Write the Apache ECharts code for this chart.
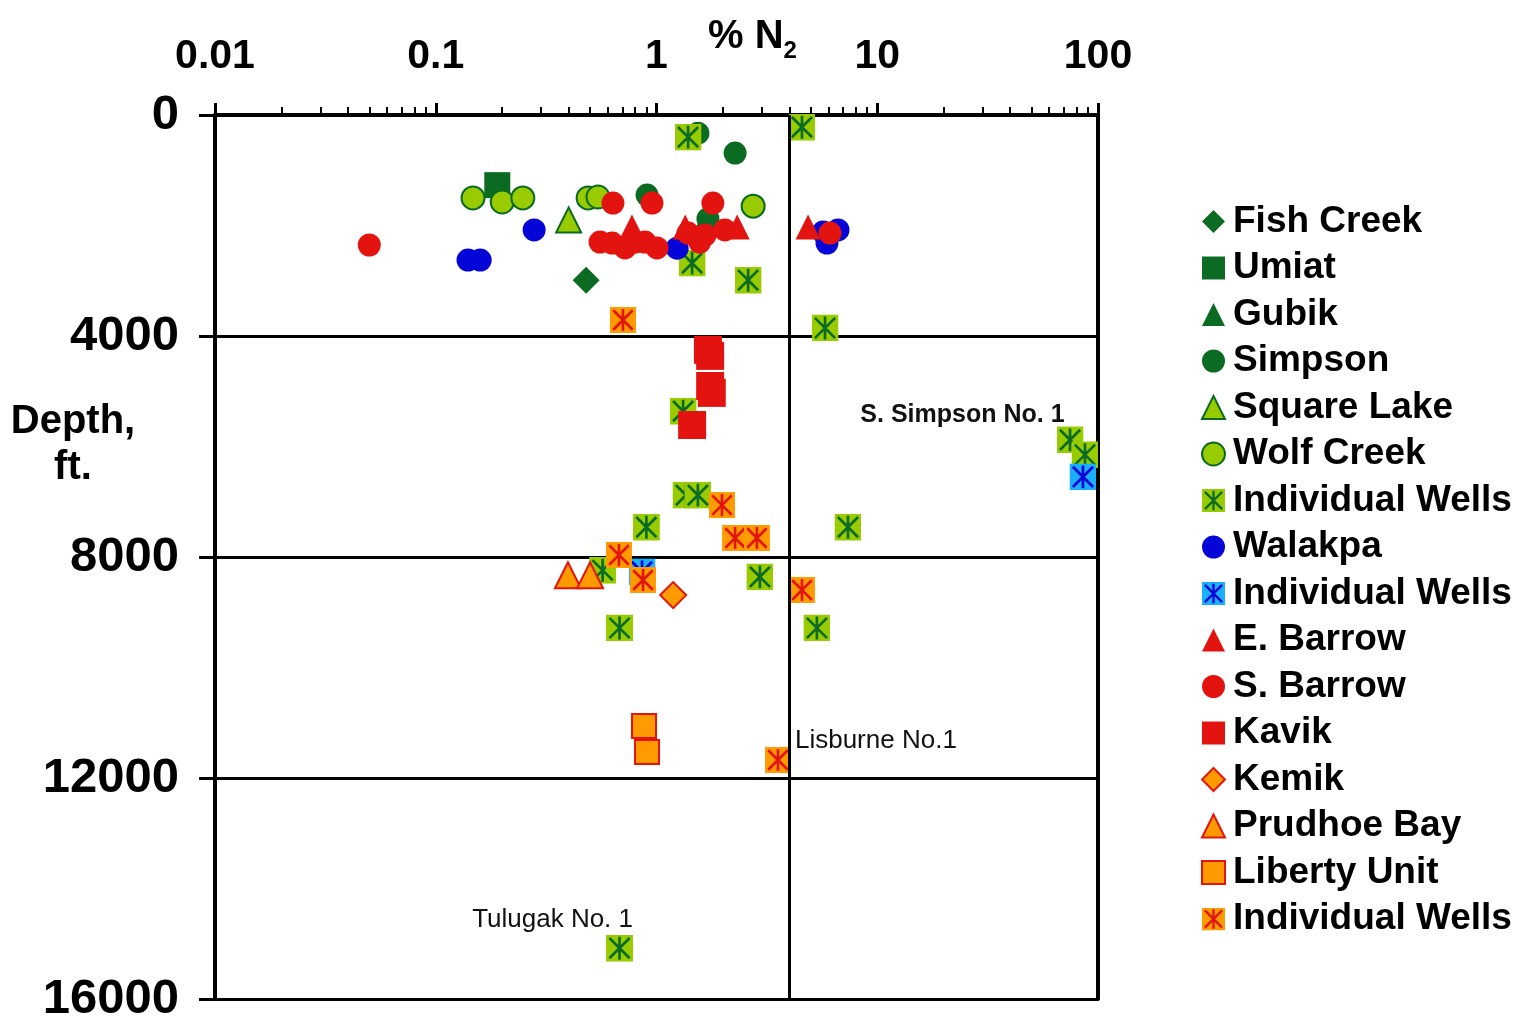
<!DOCTYPE html>
<html><head><meta charset="utf-8">
<script src="https://cdn.jsdelivr.net/npm/echarts@6/dist/echarts.min.js"></script>
<style>html,body{margin:0;padding:0;background:#fff}#c{width:1534px;height:1025px}</style>
</head><body><div id="c"></div>
<script>
// ---------- data ----------
const xMajorTicks = [0.01, 0.1, 1, 10, 100];
const xMinorTicks = [0.02,0.03,0.04,0.05,0.06,0.07,0.08,0.09,
                     0.2,0.3,0.4,0.5,0.6,0.7,0.8,0.9,
                     2,3,4,5,6,7,8,9,
                     20,30,40,50,60,70,80,90];
const referenceLineN2 = [4];

const fishCreek  = [[0.48, 2990]];
const umiat      = [[0.19, 1270]];
const gubik      = [[1.65, 1950]];
const simpson    = [[1.54, 330],[2.27, 690],[0.906, 1450],[1.71, 1880]];
const squareLake = [[0.40, 1900]];
const wolfCreek  = [[0.1475, 1500],[0.20, 1575],[0.248, 1500],[0.49, 1500],[0.543, 1484],[2.74, 1650]];
const wellsGreen = [[1.39, 400],[4.56, 220],[1.45, 2680],[2.60, 2990],[5.80, 3855],[1.32, 5360],
                    [1.36, 6880],[1.54, 6880],[0.90, 7460],[7.37, 7460],[0.57, 8240],[2.94, 8360],
                    [0.68, 9285],[5.33, 9285],[74.7, 5880, 'S. Simpson No. 1'],[87.3, 6150],
                    [0.68, 15080, 'Tulugak No. 1']];
const walakpa    = [[0.279, 2080],[0.14, 2625],[0.159, 2625],[1.24, 2410],[5.68, 2118],[6.64, 2081],[5.92, 2317]];
const wellsBlue  = [[0.86, 8270],[85.5, 6550]];
const eBarrow    = [[0.774, 2027],[1.35, 2027],[2.32, 2027],[4.86, 2027]];
const sBarrow    = [[0.05, 2353],[0.635, 1593],[0.954, 1593],[1.80, 1593],[0.555, 2299],[0.63, 2317],
                    [0.72, 2407],[0.80, 2299],[0.887, 2299],[1.005, 2407],[1.39, 2136],[1.54, 2226],
                    [1.66, 2172],[2.04, 2081],[1.57, 2300],[6.11, 2136]];
const kavik      = [[1.71, 4250],[1.75, 4360],[1.75, 4905],[1.78, 5030],[1.45, 5611]];
const kemik      = [[1.19, 8690]];
const prudhoeBay = [[0.397, 8330],[0.50, 8330]];
const libertyUnit= [[0.878, 11060],[0.906, 11530]];
const wellsOrange= [[0.705, 3710],[1.98, 7060],[2.27, 7656],[2.85, 7656],[0.676, 7964],[0.869, 8416],
                    [4.56, 8597],[3.55, 11674, 'Lisburne No.1']];

// ---------- styles ----------
const FONT = '"Liberation Sans", Arial, Helvetica, sans-serif';
const DG = '#0b6b23', YG = '#99cc00', RED = '#e3140f', OR = '#ff9a00', BLUE = '#0505d8', CYAN = '#1ab0ff';

function wellIcon(fill, stroke) {
  const svg = '<svg xmlns="http://www.w3.org/2000/svg" width="40" height="40" viewBox="0 0 40 40">' +
    '<rect x="0" y="0" width="40" height="40" fill="' + fill + '"/>' +
    '<path d="M5 5L35 35M35 5L5 35M20 3V37" stroke="' + stroke + '" stroke-width="4" fill="none"/></svg>';
  return 'image://data:image/svg+xml;charset=utf-8,' + encodeURIComponent(svg);
}

const labelStyles = {
  'S. Simpson No. 1': {position: 'left', distance: -8, offset: [0, -25], fontSize: 25, fontWeight: 'bold'},
  'Lisburne No.1':    {position: 'right', distance: 4, offset: [0, -19], fontSize: 26, fontWeight: 'normal'},
  'Tulugak No. 1':    {position: 'left', distance: -27, offset: [0, -28], fontSize: 26, fontWeight: 'normal'}
};

function toData(arr) {
  return arr.map(function (p) {
    if (p.length > 2) {
      const ls = labelStyles[p[2]];
      return {value: [p[0], p[1]], label: Object.assign({
        show: true, formatter: p[2], color: '#111', fontFamily: FONT
      }, ls)};
    }
    return [p[0], p[1]];
  });
}

function sc(name, data, symbol, size, color, border, bw) {
  return {
    name: name, type: 'scatter', data: toData(data),
    symbol: symbol, symbolSize: size,
    itemStyle: {color: color, borderColor: border || color, borderWidth: bw || 0, opacity: 1},
    emphasis: {disabled: true}
  };
}

const series = [
  sc('Fish Creek', fishCreek, 'diamond', 27, DG),
  sc('Umiat', umiat, 'rect', 26, DG),
  sc('Gubik', gubik, 'triangle', 25, DG),
  sc('Simpson', simpson, 'circle', 23, DG),
  sc('Square Lake', squareLake, 'triangle', 25, YG, DG, 2),
  sc('Wolf Creek', wolfCreek, 'circle', 23, YG, DG, 2),
  sc('Individual Wells #g', wellsGreen, wellIcon(YG, DG), 27, YG),
  sc('Walakpa', walakpa, 'circle', 23, BLUE),
  sc('Individual Wells #b', wellsBlue, wellIcon(CYAN, BLUE), 27, CYAN),
  sc('E. Barrow', eBarrow, 'triangle', 25, RED),
  sc('S. Barrow', sBarrow, 'circle', 23, RED),
  sc('Kavik', kavik, 'rect', 28, RED),
  sc('Kemik', kemik, 'diamond', 26, OR, RED, 2),
  sc('Prudhoe Bay', prudhoeBay, 'triangle', 26, OR, RED, 2),
  sc('Liberty Unit', libertyUnit, 'rect', 24, OR, RED, 2),
  sc('Individual Wells #o', wellsOrange, wellIcon(OR, RED), 26, OR)
];
series[0].markLine = {
  silent: true, symbol: 'none', label: {show: false},
  lineStyle: {color: '#000', width: 3, type: 'solid'},
  data: referenceLineN2.map(function (v) { return {xAxis: v}; })
};
series[0].z = 1;

const chart = echarts.init(document.getElementById('c'), null, {renderer: 'canvas'});
chart.setOption({
  animation: false,
  backgroundColor: '#fff',
  title: {
    text: '{a|% N}{b|2}', left: 703, top: 6,
    textStyle: {
      rich: {
        a: {fontFamily: FONT, fontWeight: 'bold', fontSize: 40, color: '#000', lineHeight: 46, verticalAlign: 'bottom'},
        b: {fontFamily: FONT, fontWeight: 'bold', fontSize: 24, color: '#000', lineHeight: 46, verticalAlign: 'bottom', padding: [0, 0, -6, 0]}
      }
    }
  },
  graphic: [
    {type: 'text', x: 73, y: 422, style: {text: 'Depth,', font: 'bold 40px ' + FONT, fill: '#000', align: 'center', verticalAlign: 'middle'}},
    {type: 'text', x: 73, y: 468, style: {text: 'ft.', font: 'bold 40px ' + FONT, fill: '#000', align: 'center', verticalAlign: 'middle'}}
  ],
  grid: {left: 215, right: 436, top: 115, bottom: 26, containLabel: false},
  legend: {
    orient: 'vertical', left: 1196, top: 198,
    itemWidth: 23, itemHeight: 23, itemGap: 9.5,
    selectedMode: false,
    textStyle: {fontFamily: FONT, fontSize: 37, fontWeight: 'bold', color: '#000', lineHeight: 36, padding: [0, 0, 0, 3]},
    formatter: function (n) { return n.split('#')[0].trim(); },
    data: series.map(function (s) { return s.name; })
  },
  xAxis: [
    {
      type: 'log', logBase: 10, min: 0.01, max: 100, position: 'top',
      axisLine: {show: true, onZero: false, lineStyle: {color: '#000', width: 4}},
      axisTick: {show: true, inside: false, length: 12, customValues: xMajorTicks, lineStyle: {color: '#000', width: 3}},
      axisLabel: {show: true, customValues: xMajorTicks, margin: 38, fontFamily: FONT, fontSize: 41, fontWeight: 'bold', color: '#000',
        formatter: function (v) { return String(v); }},
      splitLine: {show: false}, minorTick: {show: false}
    },
    {
      type: 'log', logBase: 10, min: 0.01, max: 100, position: 'top',
      axisLine: {show: false, onZero: false},
      axisTick: {show: true, inside: false, length: 8, customValues: xMinorTicks, lineStyle: {color: '#000', width: 2}},
      axisLabel: {show: false},
      splitLine: {show: false}
    }
  ],
  yAxis: [
    {
      type: 'value', inverse: true, min: 0, max: 16000, interval: 4000, position: 'left',
      axisLine: {show: true, onZero: false, lineStyle: {color: '#000', width: 4}},
      axisTick: {show: true, inside: false, length: 16, lineStyle: {color: '#000', width: 3}},
      axisLabel: {margin: 36, fontFamily: FONT, fontSize: 49, fontWeight: 'bold', color: '#000',
        formatter: function (v) { return String(v); }},
      splitLine: {show: true, lineStyle: {color: '#000', width: 3}}
    },
    {
      type: 'value', inverse: true, min: 0, max: 16000, interval: 4000, position: 'right',
      axisLine: {show: true, onZero: false, lineStyle: {color: '#000', width: 4}},
      axisTick: {show: false}, axisLabel: {show: false}, splitLine: {show: false}
    }
  ],
  series: series
});
</script>
</body></html>
